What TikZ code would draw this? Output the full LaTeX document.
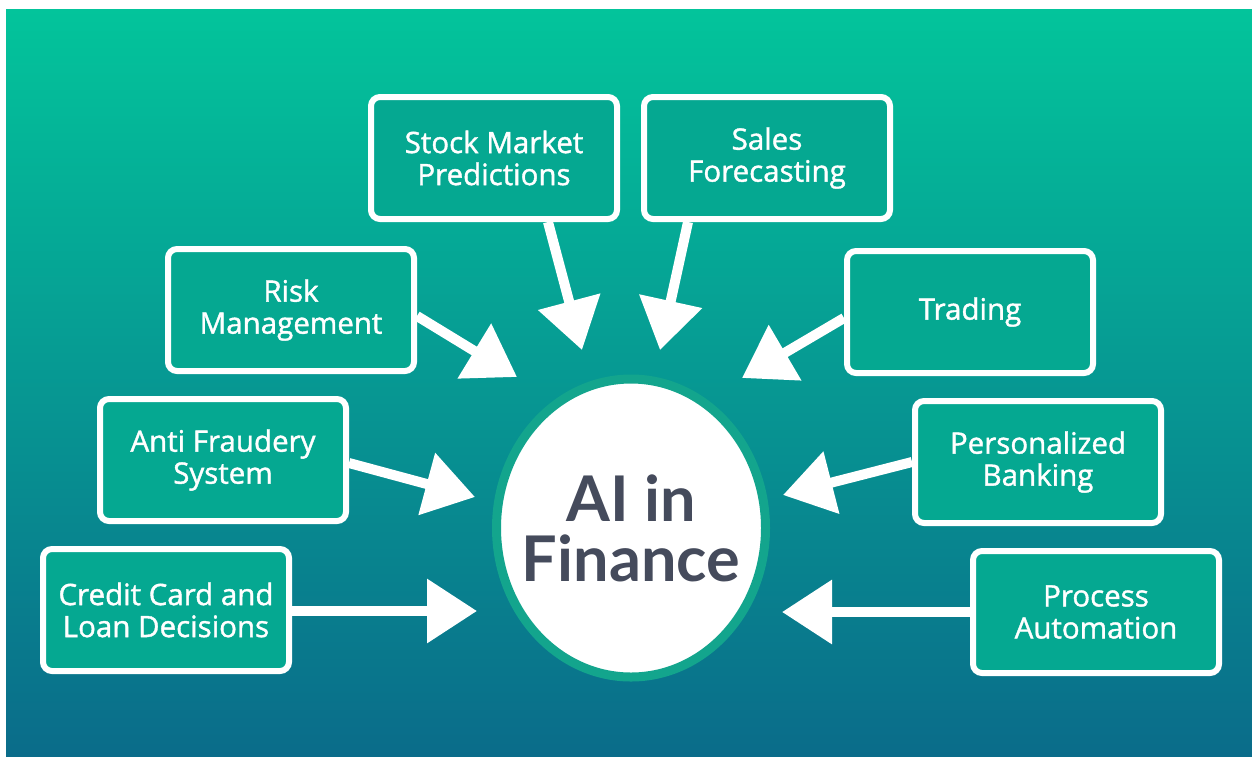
\documentclass[tikz,border=0pt]{standalone}
\usepackage{fontspec}
\setmainfont{Open Sans}[FakeBold=1.3]
\newfontfamily\titlefont{Lato}
\usepackage{tikz}
\usetikzlibrary{arrows.meta}
\usetikzlibrary{shapes.geometric}

\definecolor{bgtop}{HTML}{03C49B}
\definecolor{bgbottom}{HTML}{0A6C8A}
\definecolor{boxfill}{HTML}{05A891}
\definecolor{ringcol}{HTML}{13A58D}
\definecolor{titlecol}{HTML}{454B5C}

\begin{document}
\begin{tikzpicture}[
        x=1pt, y=-1pt, % one unit per pixel, y grows downwards
        box/.style={draw=white, line width=6pt, fill=boxfill, rounded corners=9pt,
            minimum width=246pt, minimum height=122pt, inner sep=0pt,
            align=center, text=white, font=\fontsize{29.5}{32}\selectfont}, % application boxes
        hub/.style={ellipse, draw=ringcol, line width=9pt, fill=white,
            minimum width=269pt, minimum height=298pt, inner sep=0pt}, % central circle
        title/.style={align=center, text=titlecol, font=\titlefont\fontsize{63}{60}\selectfont\bfseries},
        link/.style={draw=white, line width=10pt, -{Triangle[length=50pt, width=62pt]}} % thick white arrows
    ]
        % --- Background ---
        \useasboundingbox (0,0) rectangle (1252,756);
        \shade[top color=bgtop, bottom color=bgbottom] (6,9) rectangle (1252,756);

        % --- Central circle ---
        \node[hub, label={[title]center:AI in\\Finance}] (hub) at (631,528) {};

        % --- Application boxes ---
        \node[box] (stock)   at (494,158)  {Stock Market\\Predictions};
        \node[box] (sales)   at (767,158)  {Sales\\Forecasting};
        \node[box] (risk)    at (291,310)  {Risk\\Management};
        \node[box] (trading) at (970,312)  {Trading};
        \node[box] (fraud)   at (223,460)  {Anti Fraudery\\System};
        \node[box] (banking) at (1038,462) {Personalized\\Banking};
        \node[box] (credit)  at (166,610)  {Credit Card and\\Loan Decisions};
        \node[box] (process) at (1096,612) {Process\\Automation};

        % --- Arrow tips around the circle ---
        \coordinate (tipStock)   at (582,350);
        \coordinate (tipSales)   at (660,350);
        \coordinate (tipRisk)    at (517,377);
        \coordinate (tipTrading) at (742,378);
        \coordinate (tipFraud)   at (475,497);
        \coordinate (tipBanking) at (783,495);
        \coordinate (tipCredit)  at (477,611);
        \coordinate (tipProcess) at (782,612);

        % --- Arrows ---
        \draw[link] ([xshift=54pt]stock.south) -- (tipStock);
        \draw[link] ([xshift=-79pt]sales.south) -- (tipSales);
        \draw[link] ([yshift=-6pt]risk.east) -- (tipRisk);
        \draw[link] ([yshift=-6pt]trading.west) -- (tipTrading);
        \draw[link] ([yshift=-3pt]fraud.east) -- (tipFraud);
        \draw[link] (banking.west) -- (tipBanking);
        \draw[link] ([yshift=-1pt]credit.east) -- (tipCredit);
        \draw[link] (process.west) -- (tipProcess);

    \end{tikzpicture}
\end{document}
